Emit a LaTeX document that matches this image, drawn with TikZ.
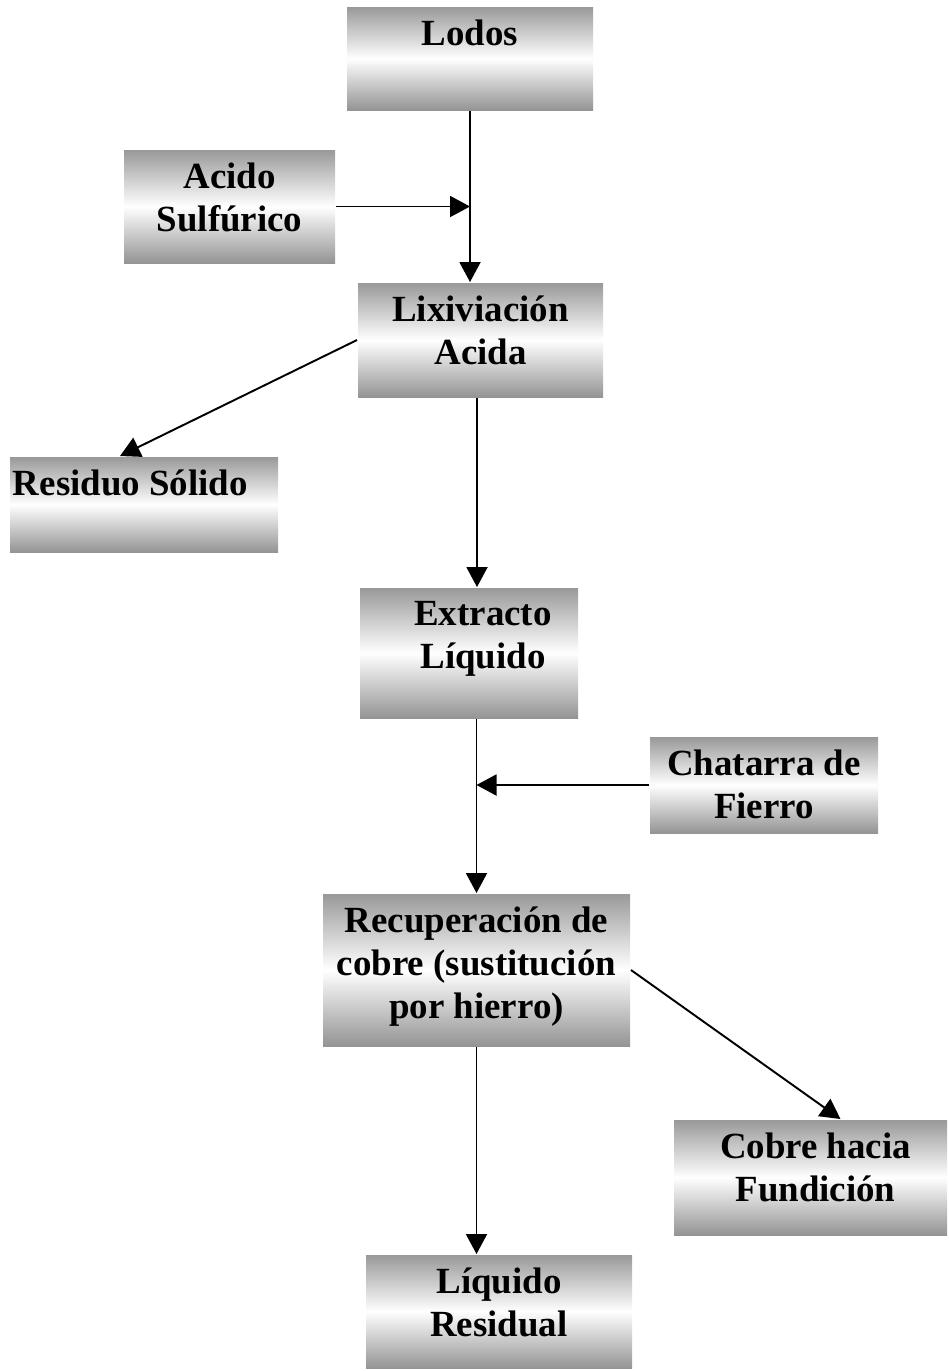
\documentclass[tikz,border=0pt]{standalone}
\usepackage{fontspec}
\setmainfont{Liberation Serif}
\usetikzlibrary{arrows.meta,positioning}
\tikzstyle{box} = [rectangle, top color=black!40, bottom color=black!42,
    middle color=white, inner sep=0pt]
\tikzstyle{lbl} = [align=center, inner sep=0pt,
    font=\bfseries\fontsize{21}{24.5}\selectfont]

\begin{document}
\begin{tikzpicture}[->,>={Triangle[length=0.4cm,width=0.42cm]},
                    line width=1.1pt,node distance=0.26cm]
  \useasboundingbox (0,0) rectangle (18.96,-27.42);

  % shaded boxes
  \node[box, minimum width=4.92cm, minimum height=2.06cm] (lodos)    at (9.40,-1.17)  {};
  \node[box, minimum width=4.22cm, minimum height=2.26cm] (acido)    at (4.59,-4.13)  {};
  \node[box, minimum width=4.90cm, minimum height=2.28cm] (lix)      at (9.61,-6.80)  {};
  \node[box, minimum width=5.36cm, minimum height=1.90cm] (residuo)  at (2.88,-10.09) {};
  \node[box, minimum width=4.36cm, minimum height=2.60cm] (extracto) at (9.38,-13.06) {};
  \node[box, minimum width=4.56cm, minimum height=1.92cm] (chatarra) at (15.28,-15.70) {};
  \node[box, minimum width=6.14cm, minimum height=3.04cm] (recup)    at (9.53,-19.40) {};
  \node[box, minimum width=5.46cm, minimum height=2.30cm] (cobre)    at (16.21,-23.55) {};
  \node[box, minimum width=5.32cm, minimum height=2.26cm] (liquido)  at (9.98,-26.23) {};

  % texts, near the top of each box
  \node[lbl] (lodos-t)    [below=of lodos.north]    {Lodos};
  \node[lbl] (acido-t)    [below=of acido.north]    {Acido\\Sulfúrico};
  \node[lbl] (lix-t)      [below=of lix.north]      {Lixiviación\\Acida};
  \node[lbl, anchor=north west] (residuo-t) [below right=0.26cm and 0.06cm of residuo.north west] {Residuo Sólido};
  \node[lbl] (extracto-t) [below=of extracto.north, xshift=0.28cm] {Extracto\\Líquido};
  \node[lbl] (chatarra-t) [below=of chatarra.north] {Chatarra de\\Fierro};
  \node[lbl] (recup-t)    [below=of recup.north]    {Recuperación de\\cobre (sustitución\\por hierro)};
  \node[lbl] (cobre-t)    [below=of cobre.north, xshift=0.1cm] {Cobre hacia\\Fundición};
  \node[lbl] (liquido-t)  [below=of liquido.north]  {Líquido\\Residual};

  % flow
  \draw (lodos.south) -- (lodos.south |- lix.north);
  \draw (acido.east) -- (acido.east -| lodos.south);
  \draw (lix.west) -- ([xshift=-0.48cm]residuo.north);
  \draw ([xshift=-0.07cm]lix.south) -- ([xshift=-0.07cm]lix.south |- extracto.north);
  \draw (recup.north |- extracto.south) -- (recup.north);
  \draw (chatarra.west) -- (chatarra.west -| recup.north);
  \draw (recup.east) -- ([xshift=0.6cm]cobre.north);
  \draw (recup.south) -- (recup.south |- liquido.north);
\end{tikzpicture}
\end{document}
